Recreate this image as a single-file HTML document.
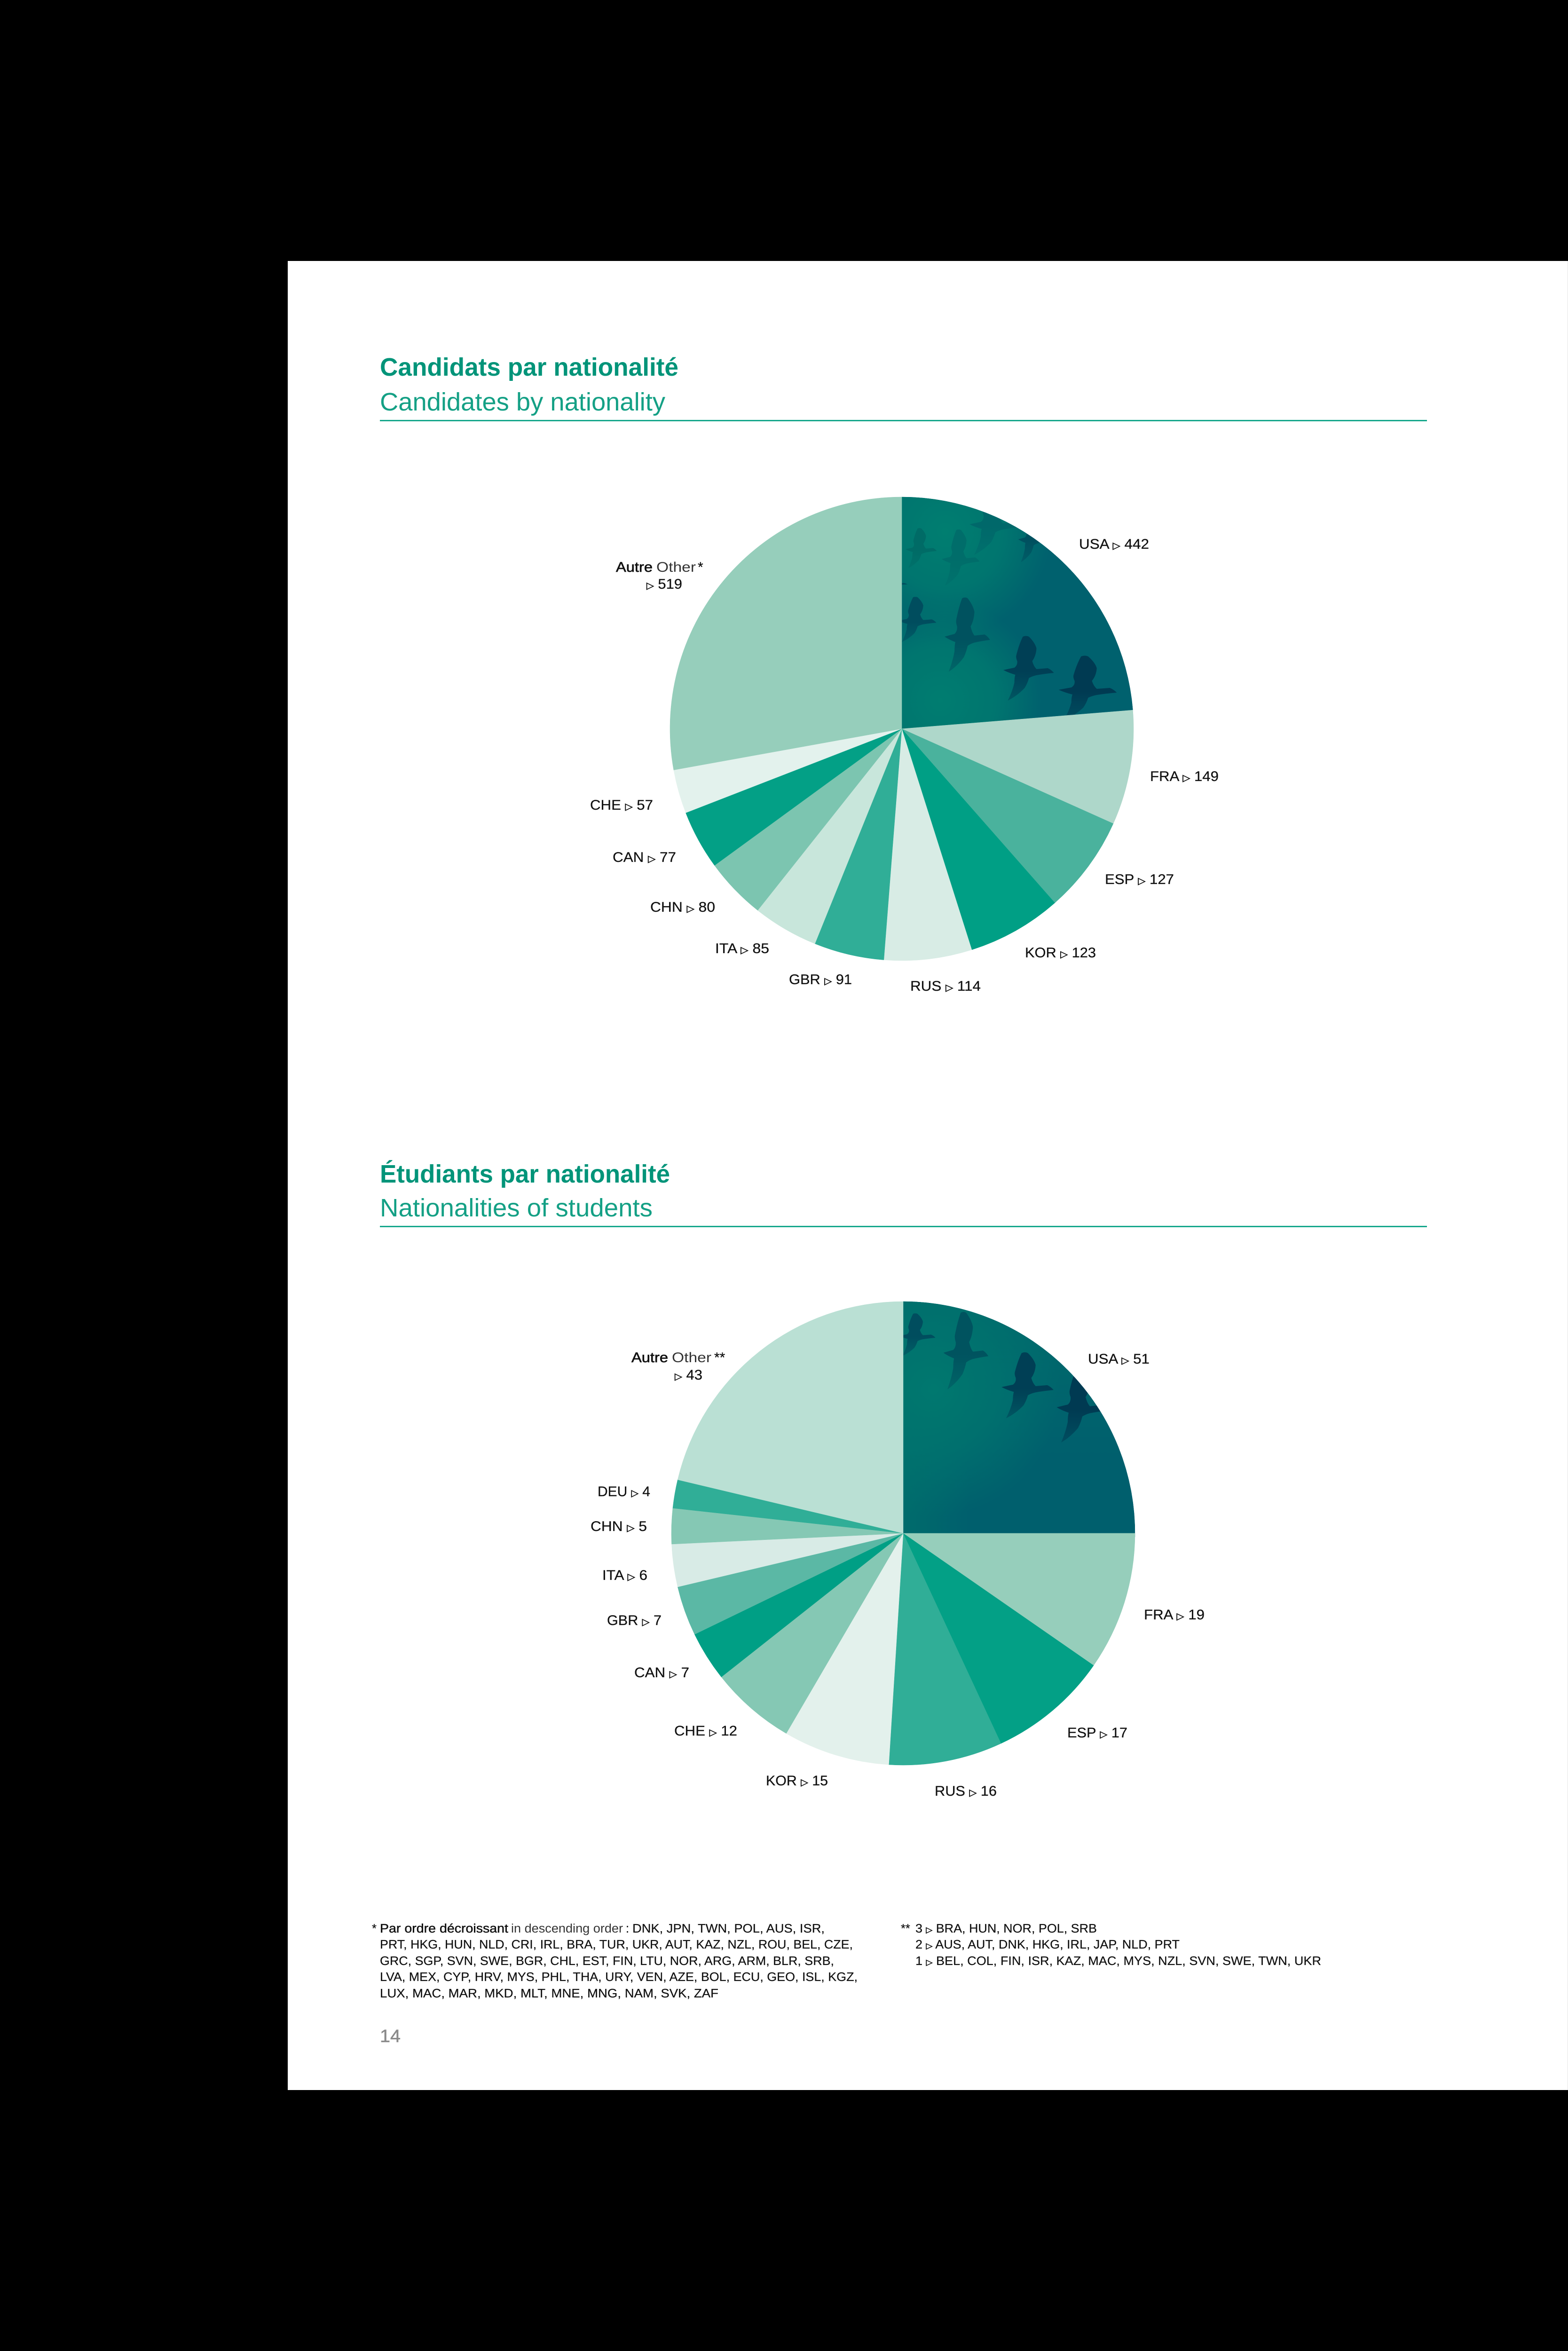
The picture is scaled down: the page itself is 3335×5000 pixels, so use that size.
<!DOCTYPE html>
<html lang="fr">
<head>
<meta charset="utf-8">
<title>Candidats et étudiants par nationalité</title>
<style>
  html,body{margin:0;padding:0;background:#000;}
  body{width:3335px;height:5000px;overflow:hidden;}
  svg{display:block;}
  text{font-family:"Liberation Sans","DejaVu Sans",sans-serif;}
  .tri{font-family:"DejaVu Sans",sans-serif;font-size:20px;stroke-width:.7px;}
  .lab{font-size:30px;fill:#111;stroke:#111;stroke-width:.3px;}
  .foot{font-size:25.5px;fill:#111;stroke:#111;stroke-width:.25px;}
  .title{font-size:54px;font-weight:700;fill:#009479;}
  .sub{font-size:54px;fill:#14a085;}
</style>
</head>
<body>
<svg id="page" xmlns="http://www.w3.org/2000/svg" width="3335" height="5000" viewBox="0 0 3335 5000">
  <defs>
    <path id="bird-shape" d="M-45.5 0Q-32 -3 -22 -5Q-15 -10 -16 -19Q-19 -26 -18 -31Q-12 -55 -4 -71Q3 -74 9 -71Q22 -58 25 -46Q24 -30 16 -19Q19 -8 25 -2Q38 -3 49 -4Q56 -1 62 6Q42 8 25 11Q16 13 9 17Q6 28 0 38Q-16 55 -36 65Q-26 45 -22 27Q-22 16 -20 10Q-34 6 -45.5 0Z"/>
    <linearGradient id="wing-fade-grad" x1="0" y1="0" x2="0" y2="1"><stop offset="0" stop-color="#fff"/><stop offset=".55" stop-color="#fff"/><stop offset="1" stop-color="#777"/></linearGradient>
    <mask id="wing-fade" maskContentUnits="objectBoundingBox" x="0" y="0" width="1" height="1"><rect x="0" y="0" width="1" height="1" fill="url(#wing-fade-grad)"/></mask>
    <radialGradient id="blob-a1" gradientUnits="userSpaceOnUse" cx="2010" cy="1130" r="225"><stop offset="0" stop-color="#007e70"/><stop offset=".55" stop-color="#007a6f" stop-opacity=".8"/><stop offset="1" stop-color="#007a6f" stop-opacity="0"/></radialGradient>
    <radialGradient id="blob-a2" gradientUnits="userSpaceOnUse" cx="2000" cy="1490" r="215"><stop offset="0" stop-color="#007d70"/><stop offset=".55" stop-color="#007a6f" stop-opacity=".8"/><stop offset="1" stop-color="#007a6f" stop-opacity="0"/></radialGradient>
    <radialGradient id="blob-b1" gradientUnits="userSpaceOnUse" cx="1985" cy="2955" r="270"><stop offset="0" stop-color="#00786f"/><stop offset=".5" stop-color="#00746e" stop-opacity=".75"/><stop offset="1" stop-color="#00746e" stop-opacity="0"/></radialGradient>
    <linearGradient id="blob-b2" gradientUnits="userSpaceOnUse" x1="0" y1="2769" x2="0" y2="3100"><stop offset="0" stop-color="#006b6c"/><stop offset="1" stop-color="#006b6c" stop-opacity="0"/></linearGradient>
    <linearGradient id="blob-b3" gradientUnits="userSpaceOnUse" x1="1921" y1="0" x2="2060" y2="0"><stop offset="0" stop-color="#006c6c"/><stop offset="1" stop-color="#006c6c" stop-opacity="0"/></linearGradient>
    <clipPath id="clip-usa-1"><path id="clip-usa-1-path" d=""/></clipPath>
    <clipPath id="clip-usa-2"><path id="clip-usa-2-path" d=""/></clipPath>
  </defs>

  <rect x="612" y="555" width="2722" height="3890" fill="#ffffff"/>
  <rect x="3334" y="555" width="1" height="3890" fill="#e6e6e6"/>

  <text class="title" x="808" y="799" textLength="635" lengthAdjust="spacingAndGlyphs">Candidats par nationalité</text>
  <text class="sub" x="808" y="873" textLength="607" lengthAdjust="spacingAndGlyphs">Candidates by nationality</text>
  <rect x="808" y="893" width="2227" height="3" fill="#17a78c"/>

  <text class="title" x="808" y="2515" textLength="617" lengthAdjust="spacingAndGlyphs">Étudiants par nationalité</text>
  <text class="sub" x="808" y="2587" textLength="580" lengthAdjust="spacingAndGlyphs">Nationalities of students</text>
  <rect x="808" y="2607" width="2227" height="3" fill="#17a78c"/>

  <g id="pie-1"></g>
  <g id="labels-1"></g>
  <g id="pie-2"></g>
  <g id="labels-2"></g>

  <g id="usa-photo-1" clip-path="url(#clip-usa-1)">
    <rect x="1900" y="1040" width="530" height="530" fill="#00616e"/>
    <rect x="1900" y="1040" width="530" height="530" fill="url(#blob-a1)"/>
    <rect x="1900" y="1040" width="530" height="530" fill="url(#blob-a2)"/>
    <use href="#bird-shape" mask="url(#wing-fade)" transform="translate(1954 1168) scale(.62 .62)" fill="#006b66"/>
    <use href="#bird-shape" mask="url(#wing-fade)" transform="translate(2037 1189) scale(.75 .87)" fill="#006d6a"/>
    <use href="#bird-shape" mask="url(#wing-fade)" transform="translate(2108 1115) scale(1 1)" fill="#00686a"/>
    <use href="#bird-shape" mask="url(#wing-fade)" transform="translate(2193 1147) scale(.6 .75)" fill="#00505f"/>
    <use href="#bird-shape" transform="translate(1893 1241) scale(.6 .3)" fill="#004e5e"/>
    <use href="#bird-shape" mask="url(#wing-fade)" transform="translate(1945 1320) scale(.75 .7)" fill="#004d5e"/>
    <use href="#bird-shape" mask="url(#wing-fade)" transform="translate(2050 1354) scale(.9 1.15)" fill="#00525f"/>
    <use href="#bird-shape" mask="url(#wing-fade)" transform="translate(2179.5 1425) scale(1 1)" fill="#003f55"/>
    <use href="#bird-shape" mask="url(#wing-fade)" transform="translate(2304 1467) scale(1.15 1)" fill="#003a52"/>
  </g>

  <g id="usa-photo-2" clip-path="url(#clip-usa-2)">
    <rect x="1900" y="2750" width="530" height="530" fill="#005f6d"/>
    <rect x="1900" y="2750" width="530" height="530" fill="url(#blob-b2)"/>
    <rect x="1900" y="2750" width="530" height="530" fill="url(#blob-b3)"/>
    <rect x="1900" y="2750" width="530" height="530" fill="url(#blob-b1)"/>
    <use href="#bird-shape" mask="url(#wing-fade)" transform="translate(1945 2841) scale(.72 .66)" fill="#004d5e"/>
    <use href="#bird-shape" mask="url(#wing-fade)" transform="translate(2047 2877) scale(.89 1.2)" fill="#00535f"/>
    <use href="#bird-shape" mask="url(#wing-fade)" transform="translate(2177 2950) scale(1.03 1.02)" fill="#003f55"/>
    <use href="#bird-shape" mask="url(#wing-fade)" transform="translate(2293 2993) scale(1 1.15)" fill="#003a52"/>
  </g>

  <g>
    <text class="foot" x="791" y="4110">*</text>
    <text class="foot" x="808" y="4110" textLength="273" lengthAdjust="spacingAndGlyphs" style="stroke-width:.5px">Par ordre décroissant</text>
    <text class="foot" x="1087" y="4110" textLength="238" lengthAdjust="spacingAndGlyphs" style="stroke-width:0;fill:#333">in descending order</text>
    <text class="foot" x="1331" y="4110">:</text>
    <text class="foot" x="1345" y="4110" textLength="409" lengthAdjust="spacingAndGlyphs">DNK, JPN, TWN, POL, AUS, ISR,</text>
    <text class="foot" x="808" y="4144" textLength="1006" lengthAdjust="spacingAndGlyphs">PRT, HKG, HUN, NLD, CRI, IRL, BRA, TUR, UKR, AUT, KAZ, NZL, ROU, BEL, CZE,</text>
    <text class="foot" x="808" y="4179" textLength="966" lengthAdjust="spacingAndGlyphs">GRC, SGP, SVN, SWE, BGR, CHL, EST, FIN, LTU, NOR, ARG, ARM, BLR, SRB,</text>
    <text class="foot" x="808" y="4213" textLength="1016" lengthAdjust="spacingAndGlyphs">LVA, MEX, CYP, HRV, MYS, PHL, THA, URY, VEN, AZE, BOL, ECU, GEO, ISL, KGZ,</text>
    <text class="foot" x="808" y="4248" textLength="720" lengthAdjust="spacingAndGlyphs">LUX, MAC, MAR, MKD, MLT, MNE, MNG, NAM, SVK, ZAF</text>
  </g>
  <g>
    <text class="foot" x="1916" y="4110">**</text>
    <text class="foot" x="1947" y="4110" textLength="386" lengthAdjust="spacingAndGlyphs">3 <tspan class="tri" style="font-size:17px">▷</tspan> BRA, HUN, NOR, POL, SRB</text>
    <text class="foot" x="1947" y="4144" textLength="562" lengthAdjust="spacingAndGlyphs">2 <tspan class="tri" style="font-size:17px">▷</tspan> AUS, AUT, DNK, HKG, IRL, JAP, NLD, PRT</text>
    <text class="foot" x="1947" y="4179" textLength="863" lengthAdjust="spacingAndGlyphs">1 <tspan class="tri" style="font-size:17px">▷</tspan> BEL, COL, FIN, ISR, KAZ, MAC, MYS, NZL, SVN, SWE, TWN, UKR</text>
  </g>
  <text x="808" y="4343" font-size="38" textLength="44" lengthAdjust="spacingAndGlyphs" fill="#8a8a8a" stroke="#8a8a8a" stroke-width=".6">14</text>
</svg>

<script>
const candidateCategories = ["USA","FRA","ESP","KOR","RUS","GBR","ITA","CHN","CAN","CHE","Autre"];
const candidateValues = [442,149,127,123,114,91,85,80,77,57,519];
const studentCategories = ["USA","FRA","ESP","RUS","KOR","CHE","CAN","GBR","ITA","CHN","DEU","Autre"];
const studentValues = [51,19,17,16,15,12,7,7,6,5,4,43];

const candidateFills = ["#00636e","#aed7ca","#4ab29d","#009f85","#d8ece5","#30ae97","#c8e6db","#7cc5b0","#03a086","#e3f2ed","#96cebb"];
const studentFills = ["#005f6d","#96cebb","#03a086","#30ae97","#e3f1ec","#85c8b4","#009f85","#5bb8a5","#d8ebe6","#85c8b4","#30ae97","#bae0d4"];

const candidateLabelLayout = [[2295,1167,149],[2446,1661,146],[2350,1880,147],[2180,2036,151],[1936,2107,150],[1678,2093,134],[1521,2027,115],[1383,1939,138],[1303,1833,135],[1255,1722,134],[1375,1252,76]];
const studentLabelLayout = [[2314,2900,131],[2433,3444,129],[2270,3695,128],[1988,3819,132],[1629,3797,132],[1434,3691,134],[1349,3567,117],[1291,3456,116],[1281,3360,96],[1256,3256,120],[1271,3182,112],[1435,2934,59]];

const SVGNS = "http://www.w3.org/2000/svg";

function toAngle(cumulative, total) {
  return cumulative / total * 2 * Math.PI;
}
function polar(cx, cy, r, a) {
  return [cx + r * Math.sin(a), cy - r * Math.cos(a)];
}
function slicePath(cx, cy, r, a0, a1) {
  const p0 = polar(cx, cy, r, a0);
  const p1 = polar(cx, cy, r, a1);
  const large = a1 - a0 > Math.PI ? 1 : 0;
  return "M" + cx + " " + cy + "L" + p0[0].toFixed(2) + " " + p0[1].toFixed(2) +
         "A" + r + " " + r + " 0 " + large + " 1 " + p1[0].toFixed(2) + " " + p1[1].toFixed(2) + "Z";
}

function drawPie(pieId, photoId, clipId, cx, cy, r, cats, vals, fills, overlapDeg) {
  const pie = document.getElementById(pieId);
  const total = vals.reduce(function (s, v) { return s + v; }, 0);
  let cum = 0;
  vals.forEach(function (v, i) {
    const a0 = toAngle(cum, total);
    cum += v;
    const a1 = toAngle(cum, total);
    const start = i === 1 ? a0 - overlapDeg * Math.PI / 180 : a0;
    const path = document.createElementNS(SVGNS, "path");
    path.setAttribute("d", slicePath(cx, cy, r, start, a1));
    path.setAttribute("fill", fills[i]);
    path.setAttribute("stroke", fills[i]);
    path.setAttribute("stroke-width", ".5");
    
    
    pie.appendChild(path);
    if (i === 0) {
      document.getElementById(clipId).setAttribute("d", slicePath(cx, cy, r, a0, a1));
      pie.appendChild(document.getElementById(photoId));
    }
  });
}

function addLabel(group, layout, text, value) {
  const t = document.createElementNS(SVGNS, "text");
  t.setAttribute("class", "lab");
  t.setAttribute("x", layout[0]);
  t.setAttribute("y", layout[1]);
  t.setAttribute("textLength", layout[2]);
  t.setAttribute("lengthAdjust", "spacingAndGlyphs");
  
  
  if (text !== "Autre") t.appendChild(document.createTextNode(text + " "));
  const tri = document.createElementNS(SVGNS, "tspan");
  tri.setAttribute("class", "tri");
  tri.textContent = "▷";
  t.appendChild(tri);
  t.appendChild(document.createTextNode(" " + value));
  group.appendChild(t);
}

function addOtherHeading(group, x, y, widthFr, gap, widthEn, stars, starsX) {
  const a = document.createElementNS(SVGNS, "text");
  a.setAttribute("class", "lab");
  a.setAttribute("x", x);
  a.setAttribute("y", y);
  a.setAttribute("textLength", widthFr);
  a.setAttribute("lengthAdjust", "spacingAndGlyphs");
  a.setAttribute("style", "stroke-width:.7px");
  
  
  a.textContent = "Autre";
  group.appendChild(a);
  const b = document.createElementNS(SVGNS, "text");
  b.setAttribute("class", "lab");
  b.setAttribute("x", x + widthFr + gap);
  b.setAttribute("y", y);
  b.setAttribute("textLength", widthEn);
  b.setAttribute("lengthAdjust", "spacingAndGlyphs");
  b.setAttribute("style", "stroke-width:0;fill:#333");
  
  
  b.textContent = "Other";
  group.appendChild(b);
  const c = document.createElementNS(SVGNS, "text");
  c.setAttribute("class", "lab");
  c.setAttribute("x", starsX);
  c.setAttribute("y", y);
  
  
  c.textContent = stars;
  group.appendChild(c);
}

drawPie("pie-1", "usa-photo-1", "clip-usa-1-path", 1918, 1550, 493, candidateCategories, candidateValues, candidateFills, 0);
drawPie("pie-2", "usa-photo-2", "clip-usa-2-path", 1921, 3261, 493, studentCategories, studentValues, studentFills, 0.9);

const labels1 = document.getElementById("labels-1");
candidateCategories.forEach(function (c, i) {
  addLabel(labels1, candidateLabelLayout[i], c, candidateValues[i]);
});
addOtherHeading(labels1, 1310, 1216, 78, 8, 84, "*", 1484);

const labels2 = document.getElementById("labels-2");
studentCategories.forEach(function (c, i) {
  addLabel(labels2, studentLabelLayout[i], c, studentValues[i]);
});
addOtherHeading(labels2, 1343, 2897, 78, 8, 84, "**", 1519);
</script>
</body>
</html>
